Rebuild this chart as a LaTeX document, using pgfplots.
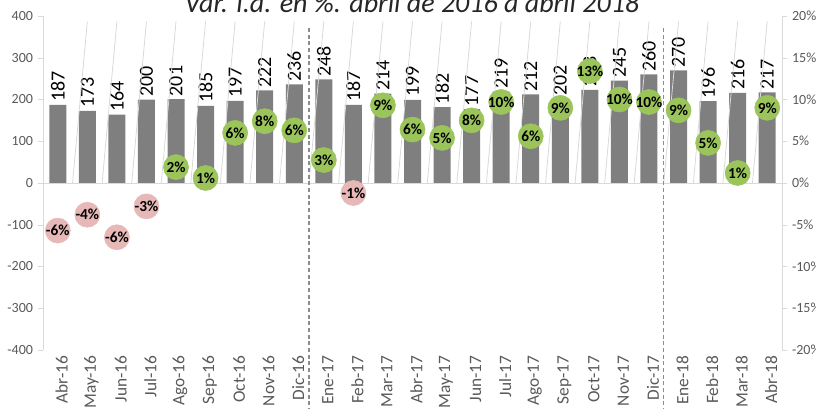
\documentclass[border=0pt]{standalone}
\usepackage{pgfplots}
\pgfplotsset{compat=1.18}
\usepackage{pgfplotstable}
\usepackage{fontspec}
\setmainfont{Carlito}
\definecolor{barg}{HTML}{7F7F7F}
\definecolor{axg}{HTML}{D9D9D9}
\definecolor{txtg}{HTML}{595959}
\definecolor{cgreen}{HTML}{9BC55A}
\definecolor{cpink}{HTML}{E6B9B8}
\tikzset{barlab/.style={rotate=90, anchor=west, font=\fontsize{15}{16}\selectfont, text=black, inner sep=2pt}}

\pgfplotstableread{
x v
0 187
1 173
2 164
3 200
4 201
5 185
6 197
7 222
8 236
9 248
10 187
11 214
12 199
13 182
14 177
15 219
16 212
17 202
18 223
19 245
20 260
21 270
22 196
23 216
24 217
}\bars

\pgfplotstableread{
x y lab
4 1.9 2
5 0.6 1
6 6.0 6
7 7.4 8
8 6.3 6
9 2.75 3
11 9.3 9
12 6.4 6
13 5.4 5
14 7.5 8
15 9.7 10
16 5.6 6
17 9.0 9
18 13.4 13
19 10.0 10
20 9.7 10
21 8.7 9
22 4.8 5
23 1.2 1
24 9.0 9
}\pos

\pgfplotstableread{
x y lab
0 -5.7 -6
1 -3.8 -4
2 -6.5 -6
3 -2.8 -3
10 -1.2 -1
}\negs

\begin{document}
\begin{tikzpicture}
\begin{axis}[
  at={(32.25pt,44.25pt)}, anchor=south west,
  scale only axis, width=554.25pt, height=250.5pt,
  xmin=-0.5, xmax=24.5, ymin=-400, ymax=400,
  ytick={-400,-300,...,400},
  xtick={0,...,24},
  xticklabels={Abr-16,May-16,Jun-16,Jul-16,Ago-16,Sep-16,Oct-16,Nov-16,Dic-16,Ene-17,Feb-17,Mar-17,Abr-17,May-17,Jun-17,Jul-17,Ago-17,Sep-17,Oct-17,Nov-17,Dic-17,Ene-18,Feb-18,Mar-18,Abr-18},
  x tick label style={rotate=90, anchor=east, font=\fontsize{13}{14}\selectfont, text=txtg, inner sep=0pt, yshift=-3pt},
  y tick label style={font=\fontsize{10.5}{12}\selectfont, text=txtg},
  /pgf/number format/assume math mode=true,
  axis x line*=bottom,
  x axis line style={draw=none},
  xtick style={draw=none},
  axis y line*=left,
  y axis line style={axg},
  ytick style={axg},
  major tick length=4pt,
  tick align=outside,
  clip=false,
]
\addplot[ybar, bar width=12.75pt, fill=barg, draw=none]
  table[x=x,y=v]{\bars};
\pgfplotsforeachungrouped \i in {0,...,24}{%
  \pgfplotstablegetelem{\i}{v}\of\bars
  \edef\temp{\noexpand\node[barlab] at (axis cs:\i,\pgfplotsretval) {\pgfplotsretval};}%
  \temp
}
\draw[axg, line width=0.6pt] (axis cs:-0.5,0) -- (axis cs:24.5,0);
\pgfplotsinvokeforeach{0.5,1.5,...,23.5}{\draw[axg, line width=0.6pt] (axis cs:#1,0) -- ++(0,-4pt);}
\draw[gray!90, line width=1pt, dash pattern=on 3pt off 2pt] (axis cs:8.5,371) -- (axis cs:8.5,-541);
\draw[gray!90, line width=1pt, dash pattern=on 3pt off 2pt] (axis cs:20.5,371) -- (axis cs:20.5,-541);
\end{axis}
\begin{axis}[
  at={(32.25pt,44.25pt)}, anchor=south west,
  scale only axis, width=554.25pt, height=250.5pt,
  xmin=-0.5, xmax=24.5, ymin=-20, ymax=20,
  ytick={-20,-15,-10,-5,0,5,10,15,20},
  yticklabels={-20\%,-15\%,-10\%,-5\%,0\%,5\%,10\%,15\%,20\%},
  y tick label style={font=\fontsize{10.5}{12}\selectfont, text=txtg},
  axis x line=none,
  axis y line*=right,
  y axis line style={axg},
  ytick style={axg},
  major tick length=4pt,
  tick align=outside,
  clip=false,
]
\addplot[color=cgreen, only marks, mark=*, mark size=9.4pt, mark options={fill=cgreen, draw=cgreen},
  nodes near coords={\textbf{\pgfplotspointmeta\%}},
  point meta=explicit symbolic,
  nodes near coords style={anchor=center, font=\fontsize{11.5}{13}\selectfont, text=black, inner sep=0pt}]
  table[x=x,y=y,meta=lab]{\pos};
\addplot[color=cpink, only marks, mark=*, mark size=9.4pt, mark options={fill=cpink, draw=cpink},
  nodes near coords={\textbf{\pgfplotspointmeta\%}},
  point meta=explicit symbolic,
  nodes near coords style={anchor=center, font=\fontsize{11.5}{13}\selectfont, text=black, inner sep=0pt}]
  table[x=x,y=y,meta=lab]{\negs};
\end{axis}
\node[anchor=base, font=\itshape\fontsize{21}{24}\selectfont, text=black!85] at (309pt,297pt) {Var. i.a. en \%. abril de 2016 a abril 2018};
\pgfresetboundingbox
\path[use as bounding box] (0,0) rectangle (612pt,306.75pt);
\end{tikzpicture}
\end{document}
